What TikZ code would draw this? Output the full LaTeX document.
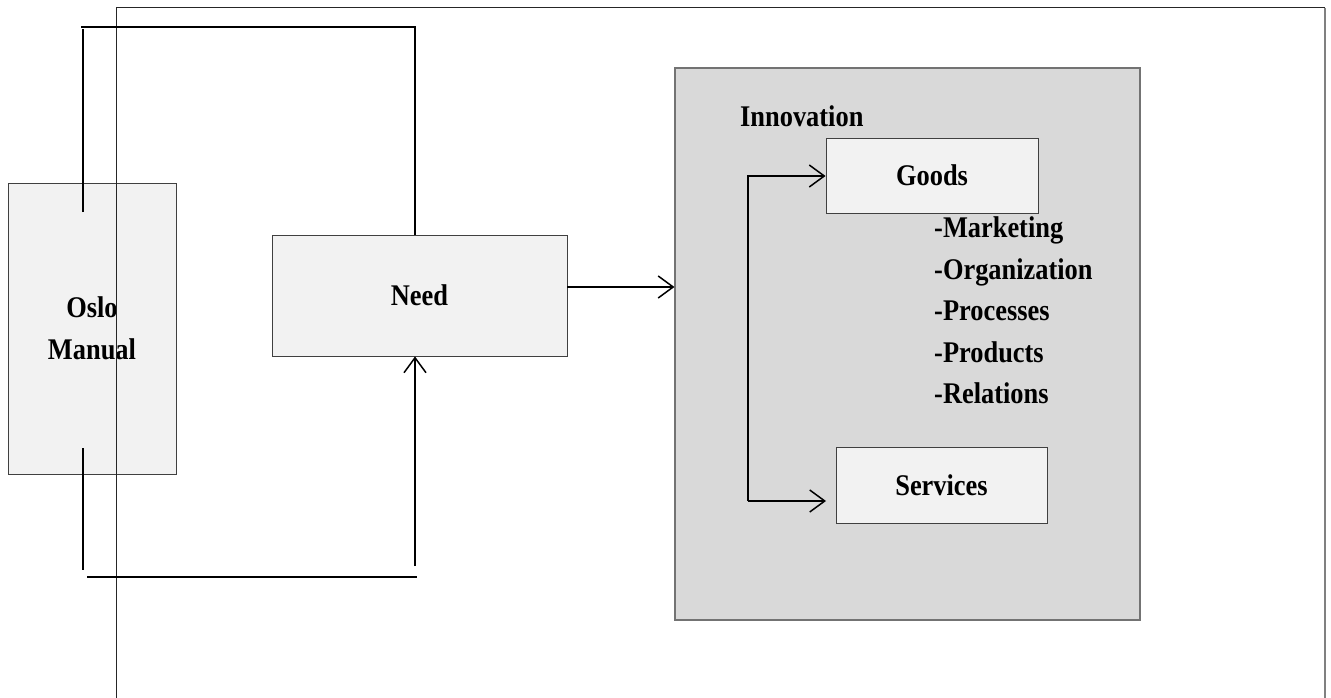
\documentclass[tikz,border=0pt]{standalone}
\usepackage{fontspec}
\setmainfont{Liberation Serif}
\usetikzlibrary{arrows.meta}
% slightly condensed bold lettering
\newcommand\narrowtext[1]{\scalebox{0.88}[1]{#1}}
\begin{document}
\begin{tikzpicture}[x=1pt,y=-1pt,
  box/.style={draw=black!75,line width=0.9pt,fill=black!5,inner sep=0pt,
    font=\fontsize{30}{42}\selectfont\bfseries,align=center},
  panel/.style={draw=black!55,line width=1.1pt,fill=black!15,inner sep=0pt},
  label/.style={inner sep=0pt,font=\fontsize{30}{32}\selectfont\bfseries},
  wire/.style={draw=black,line width=1.7pt},
  tip/.style={-{Straight Barb[length=15pt,width=22pt,line width=1.5pt]}},
  frame/.style={draw=black!85,line width=1pt}]
\useasboundingbox (0,0) rectangle (1331,698);

% boxes
\node[box,minimum width=168,minimum height=291] (oslo) at (92,328.5) {\narrowtext{Oslo}\\\narrowtext{Manual}};
\node[box,minimum width=295,minimum height=121] (need) at (419.5,295.5) {\narrowtext{Need}};
\node[panel,minimum width=465,minimum height=552] (innov) at (907.5,344) {};
\node[label,anchor=base west] (innovlbl) at (740,127) {\narrowtext{Innovation}};
\node[box,minimum width=212,minimum height=75] (goods) at (932,175.5) {\narrowtext{Goods}};
\node[box,minimum width=211,minimum height=76] (services) at (941.5,485) {\narrowtext{Services}};

% list of innovation types
\node[label,anchor=base west] (l1) at (934,237) {\narrowtext{-Marketing}};
\node[label,anchor=base west] (l2) at (934,279) {\narrowtext{-Organization}};
\node[label,anchor=base west] (l3) at (934,320) {\narrowtext{-Processes}};
\node[label,anchor=base west] (l4) at (934,362) {\narrowtext{-Products}};
\node[label,anchor=base west] (l5) at (934,403) {\narrowtext{-Relations}};

% outer frame
\coordinate (fl) at (116,698);
\coordinate (ftl) at (116,8);
\coordinate (ftr) at (1325,8);
\coordinate (fr) at (1325,698);
\draw[frame] (fl) -- (ftl) -- (ftr);
\draw[draw=black!50,line width=2.4pt] (ftr) -- (fr);

% feedback loop above
\coordinate (ta) at (83,212);
\coordinate (tb) at (83,29);
\coordinate (tl) at (81,27);
\coordinate (tr) at (415,27);
\draw[wire] (ta) -- (tb);
\draw[wire] (tl) -- (tr) -- (tr |- need.north);

% feedback loop below
\coordinate (ba) at (83,448);
\coordinate (bb) at (83,570);
\coordinate (bl) at (87,577);
\coordinate (br) at (417,577);
\coordinate (bu) at (415,566);
\draw[wire] (ba) -- (bb);
\draw[wire] (bl) -- (br);
\draw[wire,tip] (bu) -- (bu |- need.south);

% need to innovation
\coordinate (na) at (567,287);
\draw[wire,tip] (na) -- (na -| innov.west);

% bracket to goods and services
\coordinate (kt) at (748,176);
\coordinate (kb) at (748,501);
\coordinate (ks) at (826,501);
\draw[wire,tip] (kb) -- (kt) -- (kt -| goods.west);
\draw[wire,tip] (kb) -- (ks);
\end{tikzpicture}
\end{document}
